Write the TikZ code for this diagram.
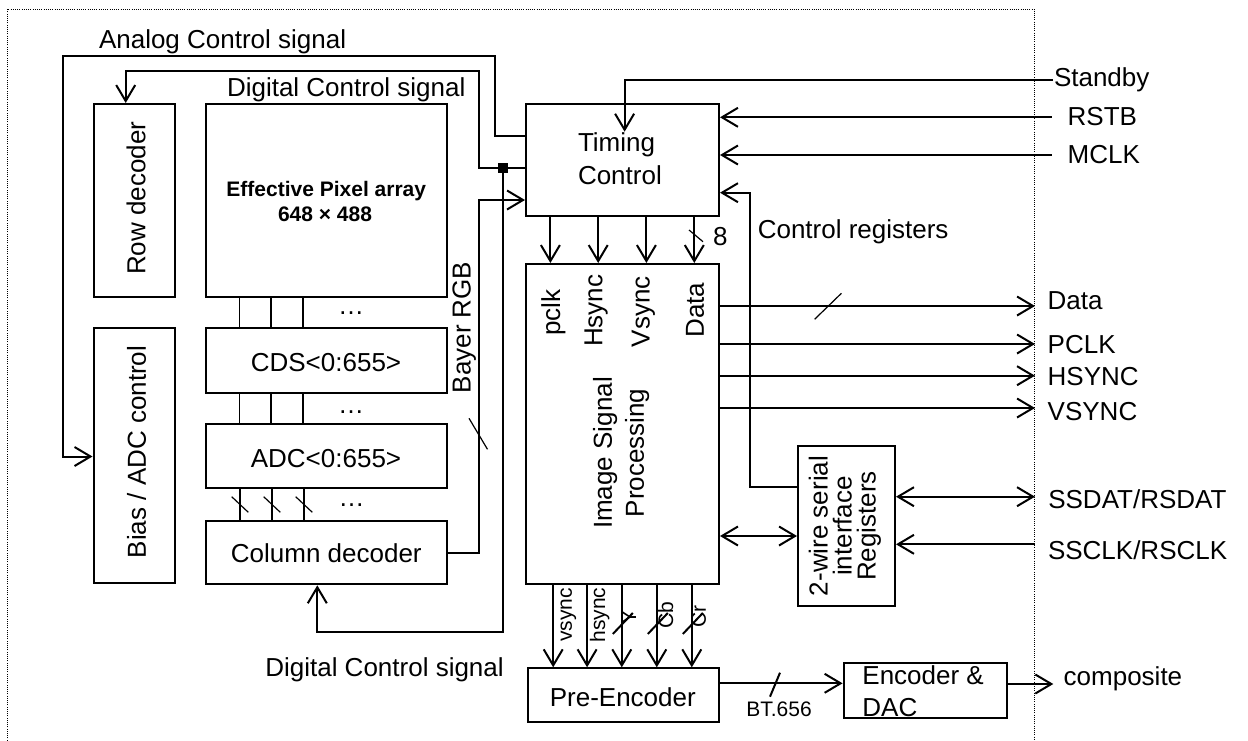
\documentclass[tikz,border=0pt]{standalone}
\usepackage{fontspec}
\setmainfont{Liberation Sans}
\usetikzlibrary{arrows.meta,fit}
\begin{document}
\begin{tikzpicture}[x=0.5pt,y=-0.5pt,
  line width=1pt,
  >={Straight Barb[length=8pt,width=9.5pt]},
  box/.style={draw, line width=1pt, inner sep=0pt},
  txt/.style={font=\fontsize{13}{16}\selectfont, inner sep=0pt},
  sm/.style={font=\fontsize{10.5}{12.5}\selectfont, inner sep=0pt},
  sl/.style={line width=0.6pt},
  bus/.style={line width=0.75pt},
  ]
\useasboundingbox (0,0) rectangle (1248,740);
\fill[white] (0,0) rectangle (1248,740);
% dotted chip border
\draw[line width=0.5pt, dash pattern=on 0.5pt off 0.6pt] (7.5,745) -- (7.5,9) -- (1034.3,9) -- (1034.3,745);

% ---------- boxes ----------
\node[box, fit={(93.5,104) (175,296.7)}] (rd) {};
\node[txt, rotate=90] at (136,198.3) {Row decoder};
\node[box, fit={(93.5,328.3) (175,582.7)}] (bias) {};
\node[txt, rotate=90] at (136.7,452) {Bias / ADC control};

\node[box, fit={(206,104) (446.5,296.7)}] (pix) {};
\node[font=\bfseries\fontsize{10.5}{12.5}\selectfont, inner sep=0pt, anchor=base] at (326.3,196.7) {Effective Pixel array};
\node[font=\bfseries\fontsize{10.5}{12.5}\selectfont, inner sep=0pt, anchor=base] at (325,221.7) {648 × 488};

\node[box, fit={(206,328.3) (446.5,392.7)}] (cds) {};
\node[txt, anchor=base] at (326,371.7) {CDS<0:655>};
\node[box, fit={(206,424.3) (446.5,488.3)}] (adc) {};
\node[txt, anchor=base] at (326,467.7) {ADC<0:655>};
\node[box, fit={(206,520.7) (446.5,584.3)}] (col) {};
\node[txt, anchor=base] at (326.3,562.7) {Column decoder};

\node[txt] at (351,313.3) {…};
\node[txt] at (351,411.7) {…};
\node[txt] at (351.7,505) {…};

\node[box, fit={(526,104.3) (719,216)}] (tc) {};
\node[txt, anchor=base west] at (577,151.7) {Timing};
\node[txt, anchor=base west] at (577,184) {Control};

\node[box, fit={(526,264) (719,583.5)}] (isp) {};
\node[txt, rotate=90] at (553.3,312.5) {pclk};
\node[txt, rotate=90] at (596,310.8) {Hsync};
\node[txt, rotate=90] at (643.3,311.7) {Vsync};
\node[txt, rotate=90] at (695,310) {Data};
\node[txt, rotate=90, align=center] at (621.2,453) {Image Signal\\Processing};

\node[box, fit={(798,446) (895,606)}] (twi) {};
\node[txt, rotate=90, align=center, font=\fontsize{13}{12}\selectfont] at (845,526) {2-wire serial\\interface\\Registers};

\node[box, fit={(527.5,668.3) (719.3,721.7)}] (pre) {};
\node[txt, anchor=base] at (622.8,706.7) {Pre-Encoder};
\node[box, fit={(843.6,663.3) (1006.8,718.3)}] (enc) {};
\node[txt, anchor=base west] at (861.4,684) {Encoder \&};
\node[txt, anchor=base west] at (861.4,716.7) {DAC};

% ---------- column buses ----------
\foreach \x in {239.5,271,303} {
  \draw[bus] (pix.south -| \x,0) -- (cds.north -| \x,0);
  \draw[bus] (cds.south -| \x,0) -- (adc.north -| \x,0);
}
\foreach \x in {240,272,304} {
  \draw[bus] (adc.south -| \x,0) -- (col.north -| \x,0);
  \draw[sl] (\x-8.3,496.7) -- (\x+8.3,512.3);
}

% ---------- control signals ----------
\node[txt, anchor=base west] at (98,48.3) {Analog Control signal};
\draw[->] (tc.west |- 0,136) -- (494.6,136) -- (494.6,56) -- (62.5,56) -- (62.5,456.5) -- (bias.west |- 0,456.5);

\node[txt, anchor=base west] at (226,96) {Digital Control signal};
\draw[->] (tc.west |- 0,168.3) -- (478.6,168.3) -- (478.6,71) -- (125.7,71) -- (rd.north -| 125.7,0);
\node[fill, minimum size=5pt, inner sep=0pt] (jn) at (503,168.3) {};
\draw[->] (jn.center) -- (503,631.7) -- (317.3,631.7) -- (col.south -| 317.3,0);
\node[txt, anchor=base west] at (264.3,676.7) {Digital Control signal};

% Bayer RGB
\draw[->] (col.east |- 0,553.3) -- (478.6,553.3) -- (478.6,200) -- (tc.west |- 0,200);
\draw[sl] (469,418.3) -- (487.5,449.3);
\node[txt, rotate=90] at (464.3,327.5) {Bayer RGB};

% Standby / RSTB / MCLK
\node[txt, anchor=west] (stb) at (1053,80) {Standby};
\draw[->] (stb.west) -- (624.6,80) -- (624.6,131.7);
\node[txt, anchor=base west] (rstb) at (1066.7,125) {RSTB};
\coordinate (rstbE) at (1051.7,117.3);
\draw[->] (rstbE) -- (tc.east |- rstbE);
\node[txt, anchor=base west] (mclk) at (1066.7,163.3) {MCLK};
\coordinate (mclkE) at (1051.7,155);
\draw[->] (mclkE) -- (tc.east |- mclkE);

% Control registers
\draw[->] (twi.west |- 0,487.3) -- (750.4,487.3) -- (750.4,192.7) -- (tc.east |- 0,192.7);
\node[txt, anchor=base west] at (756.8,238.3) {Control registers};

% Timing -> ISP
\foreach \x in {550.4,598.2,646.4,694.3}
  \draw[->] (tc.south -| \x,0) -- (isp.north -| \x,0);
\draw[sl] (689,230) -- (703,241.7);
\node[txt, anchor=base west] at (712,245) {8};

% ISP outputs
\coordinate (oD) at (1035,306);
\coordinate (oP) at (1035,344);
\coordinate (oH) at (1035,375.7);
\coordinate (oV) at (1035,408);
\draw[->] (isp.east |- oD) -- (oD);
\draw[->] (isp.east |- oP) -- (oP);
\draw[->] (isp.east |- oH) -- (oH);
\draw[->] (isp.east |- oV) -- (oV);
\draw[sl] (814.6,319.3) -- (841.4,293.3);
\node[txt, anchor=base west] at (1046.7,309) {Data};
\node[txt, anchor=base west] at (1046.7,353) {PCLK};
\node[txt, anchor=base west] at (1046.7,385) {HSYNC};
\node[txt, anchor=base west] at (1046.7,420.7) {VSYNC};

% serial interface
\coordinate (sD) at (1035,496.7);
\coordinate (sC) at (1035,544.3);
\draw[<->] (twi.east |- sD) -- (sD);
\draw[->] (sC) -- (twi.east |- sC);
\node[txt, anchor=base west] at (1047.3,508.3) {SSDAT/RSDAT};
\node[txt, anchor=base west] at (1047,559.3) {SSCLK/RSCLK};
\draw[<->] (isp.east |- 0,536) -- (twi.west |- 0,536);

% ISP -> Pre-Encoder
\foreach \x in {553.2,587.1,621.8,656.8,691.8}
  \draw[->] (isp.south -| \x,0) -- (pre.north -| \x,0);
\foreach \x in {621.8,656.8,691.8}
  \draw (\x-9,634) -- (\x+11,613);
\node[sm, rotate=90] at (568.3,615) {vsync};
\node[sm, rotate=90] at (599.6,615) {hsync};
\node[sm, rotate=90] at (629,617.5) {Y};
\node[sm, rotate=90] at (665.7,615) {Cb};
\node[sm, rotate=90] at (698.7,616.7) {Cr};

% Pre-Encoder -> Encoder
\draw[->] (pre.east |- 0,683.3) -- (enc.west |- 0,683.3);
\draw (770,696.7) -- (780,672.7);
\node[sm, anchor=base] at (779,716) {BT.656};

% composite
\node[txt, anchor=base west] (comp) at (1062.7,685) {composite};
\coordinate (cE) at (1053.3,684);
\draw[->] (enc.east |- cE) -- (cE);
\end{tikzpicture}
\end{document}
